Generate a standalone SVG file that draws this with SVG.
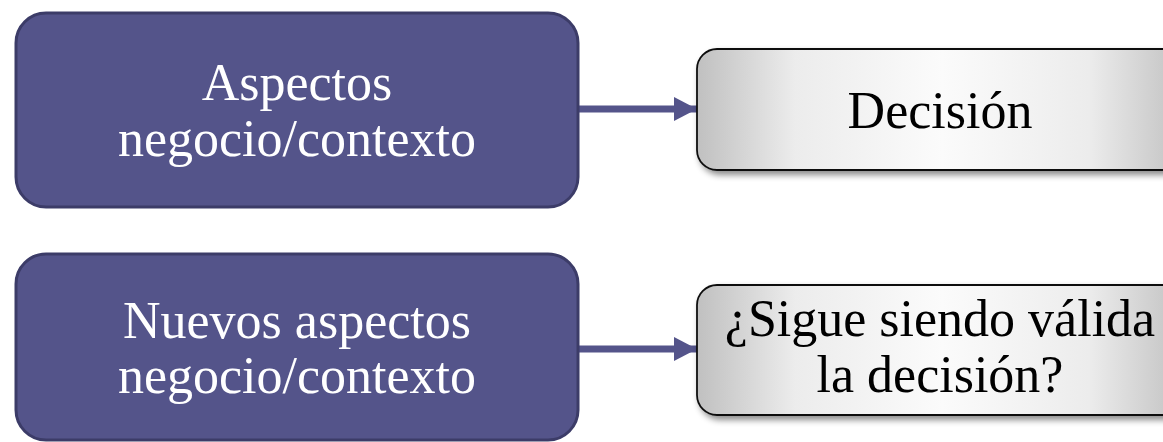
<svg xmlns="http://www.w3.org/2000/svg" width="1163" height="442" viewBox="0 0 1163 442">
<style>
.src{fill:#54548a;stroke:#3c3c68;stroke-width:3}
.dst{fill:url(#gg);stroke:#111;stroke-width:1.8;filter:url(#sh)}
.lt{font-family:"Liberation Serif",serif;font-size:52px;fill:#fff;text-anchor:middle}
.dt{font-family:"Liberation Serif",serif;font-size:52px;fill:#000;text-anchor:middle}
.con{stroke:#54548a;stroke-width:7;fill:none}
</style>
<defs>
<linearGradient id="gg" x1="0" y1="0" x2="1" y2="0">
<stop offset="0" stop-color="#c0c0c0"/>
<stop offset="0.2" stop-color="#ececec"/>
<stop offset="0.5" stop-color="#fbfbfb"/>
<stop offset="0.8" stop-color="#ececec"/>
<stop offset="1" stop-color="#c0c0c0"/>
</linearGradient>
<filter id="sh" x="-10%" y="-10%" width="130%" height="140%">
<feDropShadow dx="3" dy="4" stdDeviation="3" flood-color="#000" flood-opacity="0.45"/>
</filter>
<marker id="ah" viewBox="0 0 23 24" refX="23" refY="12" markerWidth="3.29" markerHeight="3.43" markerUnits="strokeWidth" orient="auto">
<path d="M0,0 L23,12 L0,24 Z" fill="#54548a"/>
</marker>
</defs>
<g id="connectors">
<line class="con" x1="578" y1="109" x2="697" y2="109" marker-end="url(#ah)"/>
<line class="con" x1="578" y1="349" x2="697" y2="349" marker-end="url(#ah)"/>
</g>
<g id="n1">
<rect class="src" x="16" y="13" width="562" height="194" rx="30"/>
<text class="lt" x="297" y="100">Aspectos</text>
<text class="lt" x="297" y="156">negocio/contexto</text>
</g>
<g id="n2">
<rect class="src" x="16" y="254" width="562" height="186" rx="30"/>
<text class="lt" x="297" y="338">Nuevos aspectos</text>
<text class="lt" x="297" y="393">negocio/contexto</text>
</g>
<g id="n3">
<rect class="dst" x="697" y="49" width="490" height="121" rx="20"/>
<text class="dt" x="940" y="128">Decisión</text>
</g>
<g id="n4">
<rect class="dst" x="697" y="285" width="490" height="130" rx="20"/>
<text class="dt" x="940" y="336">¿Sigue siendo válida</text>
<text class="dt" x="940" y="392">la decisión?</text>
</g>
</svg>
